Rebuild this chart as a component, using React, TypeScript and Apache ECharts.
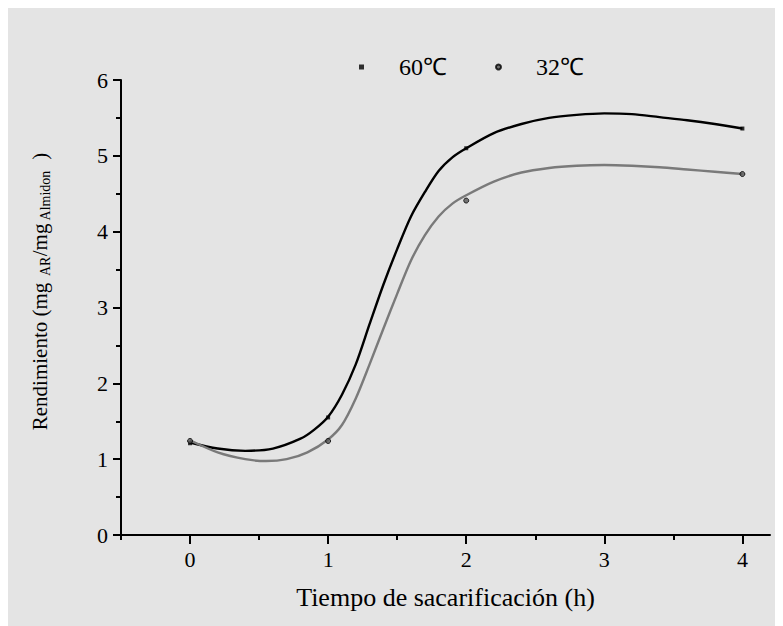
import React, { useEffect, useRef } from "react";
import * as echarts from "echarts";

const xMajorTicks = [0, 1, 2, 3, 4];
const xMinorTicks = [-0.5, 0.5, 1.5, 2.5, 3.5];
const sampleTimes = [0, 1, 2, 4];
const rend60 = [1.21, 1.55, 5.1, 5.36];
const rend32 = [1.24, 1.24, 4.41, 4.76];
const curveTimes60 = [0, 0.2, 0.4, 0.6, 0.8, 0.9, 1.0, 1.1, 1.2, 1.3, 1.4, 1.5, 1.6, 1.7, 1.8, 1.9, 2.0, 2.2, 2.4, 2.6, 2.8, 3.0, 3.2, 3.4, 3.6, 3.8, 4.0];
const curve60 = [1.22, 1.14, 1.11, 1.14, 1.27, 1.39, 1.56, 1.85, 2.25, 2.78, 3.3, 3.77, 4.2, 4.52, 4.8, 4.98, 5.1, 5.3, 5.42, 5.5, 5.54, 5.56, 5.55, 5.51, 5.47, 5.42, 5.36];
const curveTimes32 = [0, 0.2, 0.4, 0.55, 0.7, 0.85, 1.0, 1.1, 1.2, 1.3, 1.4, 1.5, 1.6, 1.7, 1.8, 1.9, 2.0, 2.2, 2.4, 2.6, 2.8, 3.0, 3.2, 3.4, 3.6, 3.8, 4.0];
const curve32 = [1.25, 1.09, 1.0, 0.975, 1.0, 1.09, 1.26, 1.45, 1.8, 2.25, 2.72, 3.18, 3.62, 3.95, 4.2, 4.37, 4.48, 4.66, 4.78, 4.84, 4.87, 4.88, 4.87, 4.85, 4.82, 4.79, 4.76];
const legendNames = ["60℃", "32℃"];

const FONT = "Liberation Serif";

export default function App() {
  const ref = useRef<HTMLDivElement>(null);
  useEffect(() => {
    if (!ref.current) return;
    const chart = echarts.init(ref.current, null, { renderer: "svg" });
    const pair = (xs: number[], ys: number[]) => xs.map((x, i) => [x, ys[i]]);
    const axisLine = { show: true, onZero: false, lineStyle: { color: "#000", width: 2 } };
    chart.setOption({
      animation: false,
      backgroundColor: "#e4e4e4",
      textStyle: { fontFamily: FONT },
      grid: { left: 113, top: 72, right: 13, bottom: 91, containLabel: false },
      legend: {
        left: 346,
        top: 42,
        itemWidth: 5,
        itemHeight: 5,
        itemGap: 48,
        data: [
          { name: legendNames[0], icon: "rect" },
          { name: legendNames[1], icon: "circle" },
        ],
        textStyle: { fontSize: 24, fontFamily: FONT, color: "#000", padding: [0, 0, 0, 30] },
      },
      xAxis: [
        {
          type: "value",
          min: -0.5,
          max: 4.2,
          position: "bottom",
          axisLine,
          splitLine: { show: false },
          axisTick: { show: true, length: 9, customValues: xMajorTicks, lineStyle: { color: "#000", width: 2 } },
          axisLabel: { customValues: xMajorTicks, fontSize: 22, color: "#000", fontFamily: FONT, margin: 13 },
          name: "Tiempo de sacarificación (h)",
          nameLocation: "middle",
          nameGap: 49,
          nameTextStyle: { fontSize: 26, color: "#000", fontFamily: FONT },
        },
        {
          type: "value",
          min: -0.5,
          max: 4.2,
          position: "bottom",
          axisLine: { show: false, onZero: false },
          splitLine: { show: false },
          axisTick: { show: true, length: 5, customValues: xMinorTicks, lineStyle: { color: "#000", width: 2 } },
          axisLabel: { show: false },
        },
      ],
      yAxis: {
        type: "value",
        min: 0,
        max: 6,
        interval: 1,
        axisLine,
        splitLine: { show: false },
        axisTick: { show: true, length: 8, lineStyle: { color: "#000", width: 2 } },
        minorTick: { show: true, splitNumber: 2, length: 5, lineStyle: { color: "#000", width: 2 } },
        axisLabel: { fontSize: 22, color: "#000", fontFamily: FONT, margin: 13 },
        name: "{a|Rendimiento (mg}{s|  AR}{a|/mg}{s| Almidon}{a|  )}",
        nameLocation: "middle",
        nameRotate: 90,
        nameGap: 69,
        nameTextStyle: {
          color: "#000",
          fontFamily: FONT,
          fontSize: 21,
          padding: [0, 0, 0, 32],
          rich: {
            a: { fontSize: 21, fontFamily: FONT, color: "#000", lineHeight: 25, verticalAlign: "middle" },
            s: { fontSize: 14, fontFamily: FONT, color: "#000", lineHeight: 14, verticalAlign: "bottom" },
          },
        },
      },
      series: [
        {
          name: "ajuste 60",
          type: "line",
          smooth: 0.3,
          showSymbol: false,
          data: pair(curveTimes60, curve60),
          lineStyle: { color: "#000", width: 2.4 },
          itemStyle: { color: "#000" },
          z: 2,
        },
        {
          name: "ajuste 32",
          type: "line",
          smooth: 0.3,
          showSymbol: false,
          data: pair(curveTimes32, curve32),
          lineStyle: { color: "#7a7a7a", width: 2.4 },
          itemStyle: { color: "#7a7a7a" },
          z: 2,
        },
        {
          name: legendNames[0],
          type: "scatter",
          symbol: "rect",
          symbolSize: 4,
          data: pair(sampleTimes, rend60),
          itemStyle: { color: "#000" },
          z: 3,
        },
        {
          name: legendNames[1],
          type: "scatter",
          symbol: "circle",
          symbolSize: 5,
          data: pair(sampleTimes, rend32),
          itemStyle: { color: "#555", borderColor: "#000", borderWidth: 1 },
          z: 3,
        },
      ],
    });
    return () => chart.dispose();
  }, []);
  return <div ref={ref} style={{ width: 775, height: 618 }} />;
}
